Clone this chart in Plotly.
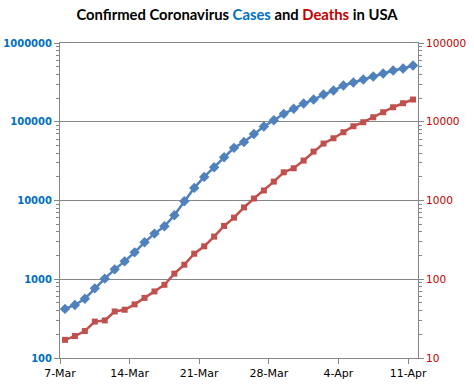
import plotly.graph_objects as go
import pandas as pd

dates = pd.date_range("2020-03-07 12:00", periods=36, freq="D")
cases = [420, 471, 566, 766, 1018, 1336, 1687, 2197, 2944, 3797, 4700, 6490,
         9770, 14450, 19950, 26400, 35400, 46600, 55200, 70000, 87000, 104500,
         126000, 146000, 170400, 191500, 221600, 249000, 288400, 315000, 343600,
         375400, 409700, 447300, 474300, 517600]
deaths = [17, 19, 22, 29, 30, 39, 41, 48, 58, 70, 85, 118, 153, 211, 262, 348,
          475, 606, 816, 1060, 1340, 1738, 2282, 2566, 3214, 4180, 5284, 6170,
          7360, 8770, 9860, 11410, 13200, 15280, 17180, 19150]
left_ticks = [100, 1000, 10000, 100000, 1000000]
right_ticks = [10, 100, 1000, 10000, 100000]
x_ticks = pd.date_range("2020-03-07", periods=6, freq="7D")

left_minor = [m * 10 ** e for e in range(2, 6) for m in range(2, 10)]
right_minor = [m * 10 ** e for e in range(1, 5) for m in range(2, 10)]

BLUE = "#4F81BD"
RED = "#C0504D"
GRID = "#868686"

fig = go.Figure()
fig.add_trace(go.Scatter(x=dates, y=cases, mode="lines+markers", name="Cases",
                         line=dict(color=BLUE, width=2.5),
                         marker=dict(symbol="diamond", size=8, color=BLUE)))
fig.add_trace(go.Scatter(x=dates, y=deaths, mode="lines+markers", name="Deaths",
                         yaxis="y2",
                         line=dict(color=RED, width=2.5),
                         marker=dict(symbol="square", size=6, color=RED)))

fig.update_layout(
    width=474, height=390,
    margin=dict(l=60, r=56, t=43, b=32),
    paper_bgcolor="white", plot_bgcolor="white",
    showlegend=False,
    title=dict(
        text="Confirmed Coronavirus <span style='color:#0070C0'>Cases</span> and "
             "<span style='color:#C00000'>Deaths</span> in USA",
        x=0.5, xanchor="center", y=0.962, yanchor="middle",
        font=dict(family="Lato", size=14.8, color="black", weight="bold")),
    xaxis=dict(
        type="date", range=["2020-03-07", "2020-04-12"],
        tickvals=x_ticks, tickformat="%-d-%b",
        ticks="outside", ticklen=5, tickcolor=GRID,
        showline=True, linecolor=GRID, linewidth=1, mirror=True,
        showgrid=False, zeroline=False, automargin=False,
        tickfont=dict(family="DejaVu Sans", size=11, color="black")),
    yaxis=dict(
        type="log", range=[2, 6],
        tickvals=left_ticks, ticktext=[str(v) for v in left_ticks],
        ticks="outside", ticklen=5, tickcolor=GRID,
        minor=dict(tickvals=left_minor, ticks="outside", ticklen=3,
                   tickcolor=GRID, showgrid=False),
        showline=True, linecolor=GRID, linewidth=1,
        showgrid=True, gridcolor=GRID, gridwidth=1, automargin=False,
        tickfont=dict(family="DejaVu Sans", size=10, color="#0070C0", weight="bold")),
    yaxis2=dict(
        type="log", range=[1, 5], overlaying="y", side="right",
        tickvals=right_ticks, ticktext=[str(v) for v in right_ticks],
        ticks="outside", ticklen=5, tickcolor=GRID,
        minor=dict(tickvals=right_minor, ticks="outside", ticklen=3,
                   tickcolor=GRID, showgrid=False),
        showline=True, linecolor=GRID, linewidth=1,
        showgrid=False, automargin=False,
        tickfont=dict(family="DejaVu Sans", size=10.5, color="#C00000")),
)

fig.write_html("out.html", config={"displayModeBar": False},
               post_script="document.body.style.margin='0';")
